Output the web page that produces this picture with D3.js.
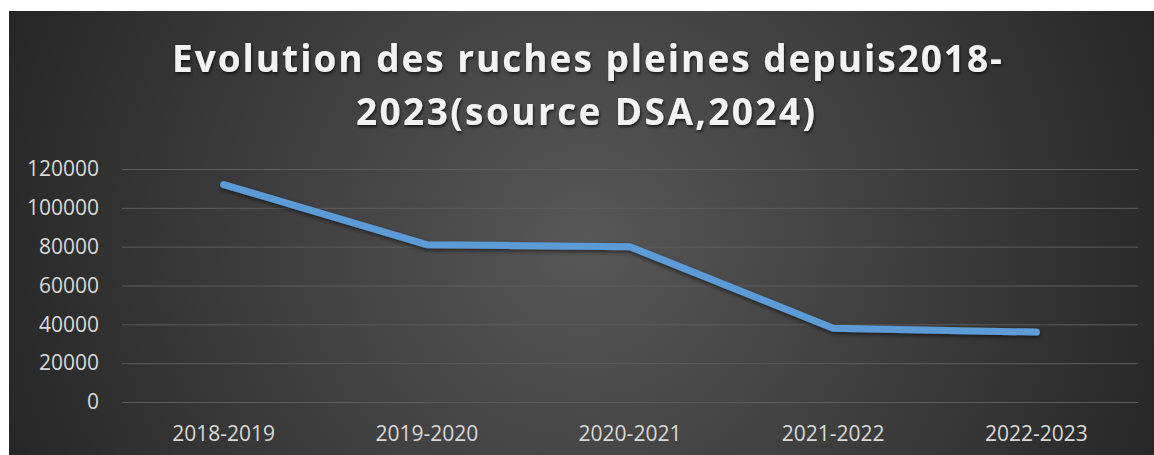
<!DOCTYPE html>
<html>
<head>
<meta charset="utf-8">
<script src="https://cdn.jsdelivr.net/npm/d3@7"></script>
<style>
  html, body { margin: 0; padding: 0; background: #ffffff; }
  svg { display: block; }
</style>
</head>
<body>
<div id="chart"></div>
<script>
const categories = ["2018-2019", "2019-2020", "2020-2021", "2021-2022", "2022-2023"];
const values = [112000, 81000, 80000, 38000, 36000];
const yTicks = [0, 20000, 40000, 60000, 80000, 100000, 120000];
const titleLines = ["Evolution des ruches pleines depuis2018-", "2023(source DSA,2024)"];

const W = 1154, H = 455;
const svg = d3.select("#chart").append("svg").attr("width", W).attr("height", H);
const defs = svg.append("defs");

const grad = defs.append("radialGradient").attr("id", "bg")
  .attr("gradientUnits", "userSpaceOnUse")
  .attr("cx", 585).attr("cy", 240).attr("r", 620);
grad.append("stop").attr("offset", "0%").attr("stop-color", "#575757");
grad.append("stop").attr("offset", "100%").attr("stop-color", "#262626");

const shadow = defs.append("filter").attr("id", "tshadow")
  .attr("x", "-10%").attr("y", "-20%").attr("width", "120%").attr("height", "150%");
shadow.append("feDropShadow").attr("dx", 1).attr("dy", 2).attr("stdDeviation", 1.5)
  .attr("flood-color", "#000").attr("flood-opacity", 0.65);

const lshadow = defs.append("filter").attr("id", "lshadow")
  .attr("x", "-10%").attr("y", "-20%").attr("width", "120%").attr("height", "150%");
lshadow.append("feDropShadow").attr("dx", 0).attr("dy", 2).attr("stdDeviation", 2)
  .attr("flood-color", "#000").attr("flood-opacity", 0.55);

svg.append("rect").attr("x", 9).attr("y", 11).attr("width", W - 9 + 5).attr("height", H - 11 + 5)
  .attr("fill", "url(#bg)");

// Title
const titleG = svg.append("g").attr("filter", "url(#tshadow)");
const titleSpecs = [
  { x: 587, y: 72, len: 830 },
  { x: 585.5, y: 125, len: 459 }
];
titleLines.forEach((t, i) => {
  titleG.append("text")
    .attr("x", titleSpecs[i].x).attr("y", titleSpecs[i].y)
    .attr("text-anchor", "middle")
    .attr("font-family", "'Open Sans', sans-serif")
    .attr("font-weight", "bold")
    .attr("font-size", 37)
    .attr("fill", "#f2f2f2")
    .attr("textLength", titleSpecs[i].len)
    .attr("lengthAdjust", "spacing")
    .text(t);
});

const plot = { left: 122, right: 1138, top: 169, bottom: 402 };

const x = d3.scaleBand().domain(categories).range([plot.left, plot.right]);
const y = d3.scaleLinear().domain([0, 120000]).range([plot.bottom, plot.top]);

// Gridlines
const yAxis = d3.axisLeft(y).tickValues(yTicks).tickSize(-(plot.right - plot.left)).tickPadding(23)
  .tickFormat(d3.format("d"));
const gy = svg.append("g").attr("transform", `translate(${plot.left},0)`).call(yAxis);
gy.select(".domain").remove();
gy.selectAll(".tick line").attr("stroke", "#5c5c5c").attr("stroke-width", 1);
gy.selectAll(".tick text")
  .attr("font-family", "'Open Sans', sans-serif")
  .attr("font-size", 21)
  .attr("fill", "#d9d9d9");

// X axis
const xAxis = d3.axisBottom(x).tickSize(0).tickPadding(0);
const gx = svg.append("g").attr("transform", `translate(0,${plot.bottom})`).call(xAxis);
gx.select(".domain").remove();
gx.selectAll(".tick text")
  .attr("dy", null)
  .attr("y", 39)
  .attr("font-family", "'Open Sans', sans-serif")
  .attr("font-size", 21)
  .attr("fill", "#d9d9d9");

// Line
const line = d3.line()
  .x((d, i) => x(categories[i]) + x.bandwidth() / 2)
  .y(d => y(d));
svg.append("path")
  .datum(values)
  .attr("d", line)
  .attr("fill", "none")
  .attr("stroke", "#5b9bd5")
  .attr("stroke-width", 7)
  .attr("stroke-linecap", "round")
  .attr("stroke-linejoin", "round")
  .attr("filter", "url(#lshadow)");
</script>
</body>
</html>
